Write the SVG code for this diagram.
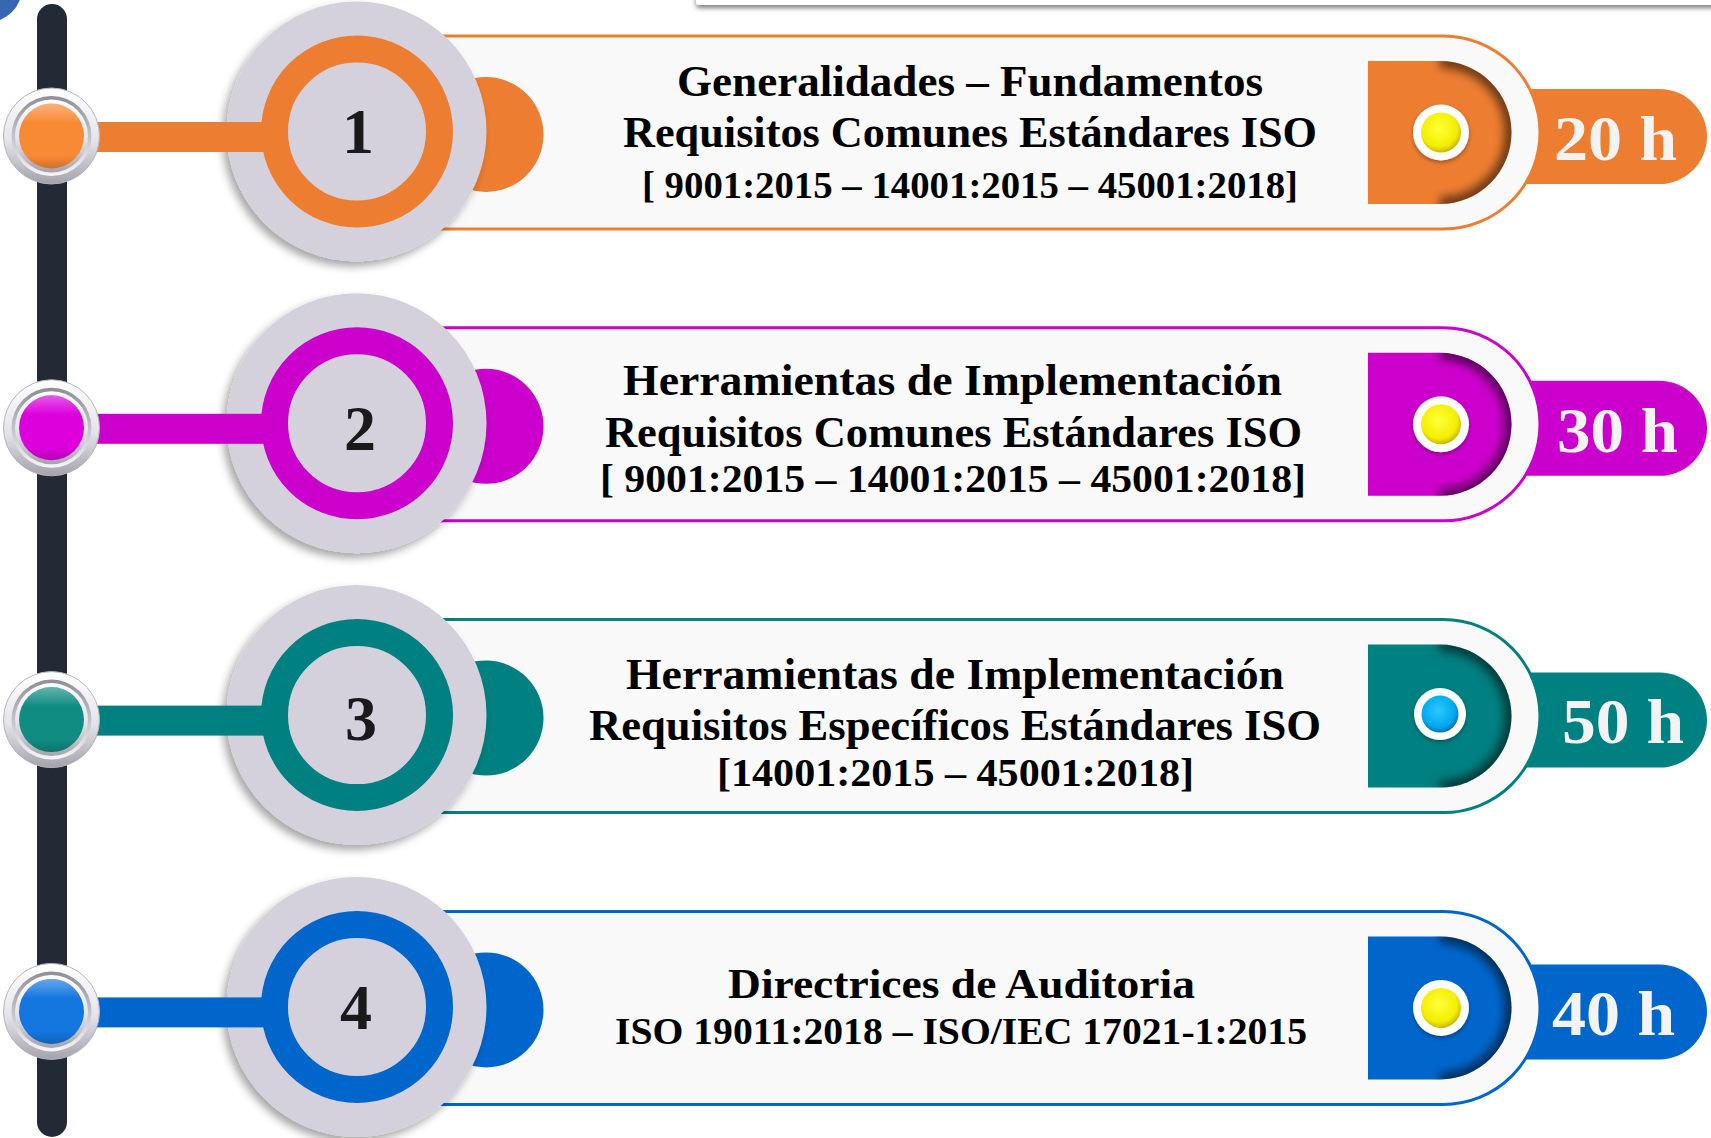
<svg xmlns="http://www.w3.org/2000/svg" width="1711" height="1138" viewBox="0 0 1711 1138">
<defs>
<style>
.t{font-family:"Liberation Serif","Times New Roman",serif;font-weight:bold;text-anchor:middle;fill:#000}
.l{font-size:45px}
.s{font-size:38px}
.num{font-size:64px;fill:#1A1A1A}
.hrs{font-size:64px;fill:#F3F3F3}
.cc{fill:currentColor}
.cs{fill:none;stroke:currentColor;stroke-width:3}
.ring{fill:none;stroke:currentColor;stroke-width:27}
.gray{fill:#D4D1DD}
.card{fill:#F9F9F9}
.dsh{fill:none;stroke:#000;stroke-opacity:0.55;stroke-width:14}
</style>
<filter id="dropL" x="-20%" y="-20%" width="140%" height="140%"><feDropShadow dx="-4" dy="5" stdDeviation="4" flood-color="#000" flood-opacity="0.35"/></filter>
<filter id="dropS" x="-40%" y="-40%" width="180%" height="180%"><feDropShadow dx="0" dy="2" stdDeviation="2" flood-color="#000" flood-opacity="0.35"/></filter>
<filter id="boxSh" x="-5%" y="-60%" width="110%" height="260%"><feDropShadow dx="0" dy="3" stdDeviation="2.5" flood-color="#000" flood-opacity="0.5"/></filter>
<filter id="blur" x="-30%" y="-30%" width="160%" height="160%"><feGaussianBlur stdDeviation="5"/></filter>
<clipPath id="dclip"><path d="M1368 -71.5H1440A71.5 71.5 0 0 1 1440 71.5H1368Z"/></clipPath>
<linearGradient id="silA" x1="0" y1="0" x2="0" y2="1"><stop offset="0" stop-color="#FFFFFF"/><stop offset="0.55" stop-color="#E4E3EA"/><stop offset="1" stop-color="#A4A3AC"/></linearGradient>
<linearGradient id="silB" x1="0" y1="0" x2="0" y2="1"><stop offset="0" stop-color="#8F8E98"/><stop offset="1" stop-color="#F6F6F8"/></linearGradient>
<linearGradient id="gloss" x1="0" y1="0" x2="0" y2="1"><stop offset="0" stop-color="#fff" stop-opacity="0.35"/><stop offset="0.3" stop-color="#fff" stop-opacity="0"/><stop offset="0.8" stop-color="#000" stop-opacity="0"/><stop offset="1" stop-color="#000" stop-opacity="0.18"/></linearGradient>
<radialGradient id="yel" cx="0.45" cy="0.4" r="0.6"><stop offset="0" stop-color="#FFFF3A"/><stop offset="0.75" stop-color="#F4EE00"/><stop offset="1" stop-color="#C9B800"/></radialGradient>
<radialGradient id="blu" cx="0.45" cy="0.4" r="0.6"><stop offset="0" stop-color="#2CC8FF"/><stop offset="0.75" stop-color="#00A9EE"/><stop offset="1" stop-color="#0A70B4"/></radialGradient>
</defs>
<rect width="1711" height="1138" fill="#FFFFFF"/>
<g id="decor">
<rect x="696" y="-30" width="1040" height="35" rx="3" fill="#FFFFFF" filter="url(#boxSh)"/>
<circle cx="-12" cy="-12" r="34" fill="#3568B0"/>
</g>
<g id="node1" transform="translate(0,132.5)" color="#ED7D31">
<path class="cc" d="M1480 -43.5H1659.5A47.5 47.5 0 0 1 1659.5 51.5H1480Z"/>
<path class="card" d="M430 -96.5H1443.5A96.5 96.5 0 0 1 1443.5 96.5H430Z"/>
<path class="cs" d="M440 -96.5H1443.5A96.5 96.5 0 0 1 1443.5 96.5H440"/>
<path class="cc" d="M1368 -71.5H1440A71.5 71.5 0 0 1 1440 71.5H1368Z"/>
<g clip-path="url(#dclip)"><path class="dsh" filter="url(#blur)" d="M1440 -71.5A71.5 71.5 0 0 1 1440 71.5"/></g>
<circle cx="1441" cy="0" r="28" fill="#FFFFFF" filter="url(#dropS)"/>
<circle cx="1441" cy="0" r="20" fill="url(#yel)"/>
<text class="t hrs" x="1615.5" y="27.5" textLength="123" lengthAdjust="spacingAndGlyphs">20 h</text>
<text class="t l" x="970" y="-36.5" textLength="586" lengthAdjust="spacingAndGlyphs">Generalidades – Fundamentos</text>
<text class="t l" x="970" y="14.5" textLength="694" lengthAdjust="spacingAndGlyphs">Requisitos Comunes Estándares ISO</text>
<text class="t s" x="970" y="65.5" textLength="656" lengthAdjust="spacingAndGlyphs">[ 9001:2015 – 14001:2015 – 45001:2018]</text>
<circle class="cc" cx="486" cy="2" r="57.5"/>
<circle class="gray" cx="356.5" cy="-1" r="130" filter="url(#dropL)"/>
<circle class="ring" cx="357" cy="-1" r="82.5"/>
<text class="t num" x="358" y="20.5">1</text>
</g>
<g id="node2" transform="translate(0,424.3)" color="#CC00CC">
<path class="cc" d="M1480 -43.5H1659.5A47.5 47.5 0 0 1 1659.5 51.5H1480Z"/>
<path class="card" d="M430 -96.5H1443.5A96.5 96.5 0 0 1 1443.5 96.5H430Z"/>
<path class="cs" d="M440 -96.5H1443.5A96.5 96.5 0 0 1 1443.5 96.5H440"/>
<path class="cc" d="M1368 -71.5H1440A71.5 71.5 0 0 1 1440 71.5H1368Z"/>
<g clip-path="url(#dclip)"><path class="dsh" filter="url(#blur)" d="M1440 -71.5A71.5 71.5 0 0 1 1440 71.5"/></g>
<circle cx="1441" cy="0" r="28" fill="#FFFFFF" filter="url(#dropS)"/>
<circle cx="1441" cy="0" r="20" fill="url(#yel)"/>
<text class="t hrs" x="1617.5" y="27.5" textLength="121" lengthAdjust="spacingAndGlyphs">30 h</text>
<text class="t l" x="952.5" y="-29.3" textLength="659" lengthAdjust="spacingAndGlyphs">Herramientas de Implementación</text>
<text class="t l" x="953.5" y="22.7" textLength="697" lengthAdjust="spacingAndGlyphs">Requisitos Comunes Estándares ISO</text>
<text class="t s" x="953" y="67.7" textLength="706" lengthAdjust="spacingAndGlyphs" style="font-size:39px">[ 9001:2015 – 14001:2015 – 45001:2018]</text>
<circle class="cc" cx="486" cy="2" r="57.5"/>
<circle class="gray" cx="356.5" cy="-1" r="130" filter="url(#dropL)"/>
<circle class="ring" cx="357" cy="-1" r="82.5"/>
<text class="t num" x="360" y="25.5">2</text>
</g>
<g id="node3" transform="translate(0,716.1)" color="#008080">
<path class="cc" d="M1480 -43.5H1659.5A47.5 47.5 0 0 1 1659.5 51.5H1480Z"/>
<path class="card" d="M430 -96.5H1443.5A96.5 96.5 0 0 1 1443.5 96.5H430Z"/>
<path class="cs" d="M440 -96.5H1443.5A96.5 96.5 0 0 1 1443.5 96.5H440"/>
<path class="cc" d="M1368 -71.5H1440A71.5 71.5 0 0 1 1440 71.5H1368Z"/>
<g clip-path="url(#dclip)"><path class="dsh" filter="url(#blur)" d="M1440 -71.5A71.5 71.5 0 0 1 1440 71.5"/></g>
<circle cx="1440" cy="-2" r="26" fill="#FFFFFF" filter="url(#dropS)"/>
<circle cx="1440" cy="-2" r="18.5" fill="url(#blu)"/>
<text class="t hrs" x="1623" y="27" textLength="122" lengthAdjust="spacingAndGlyphs">50 h</text>
<text class="t l" x="955" y="-27" textLength="658" lengthAdjust="spacingAndGlyphs">Herramientas de Implementación</text>
<text class="t l" x="955" y="24" textLength="732" lengthAdjust="spacingAndGlyphs">Requisitos Específicos Estándares ISO</text>
<text class="t s" x="955.5" y="70" textLength="477" lengthAdjust="spacingAndGlyphs" style="font-size:40px">[14001:2015 – 45001:2018]</text>
<circle class="cc" cx="486" cy="2" r="57.5"/>
<circle class="gray" cx="356.5" cy="-1" r="130" filter="url(#dropL)"/>
<circle class="ring" cx="357" cy="-1" r="82.5"/>
<text class="t num" x="361" y="23.4">3</text>
</g>
<g id="node4" transform="translate(0,1007.9)" color="#0066CC">
<path class="cc" d="M1480 -43.5H1659.5A47.5 47.5 0 0 1 1659.5 51.5H1480Z"/>
<path class="card" d="M430 -96.5H1443.5A96.5 96.5 0 0 1 1443.5 96.5H430Z"/>
<path class="cs" d="M440 -96.5H1443.5A96.5 96.5 0 0 1 1443.5 96.5H440"/>
<path class="cc" d="M1368 -71.5H1440A71.5 71.5 0 0 1 1440 71.5H1368Z"/>
<g clip-path="url(#dclip)"><path class="dsh" filter="url(#blur)" d="M1440 -71.5A71.5 71.5 0 0 1 1440 71.5"/></g>
<circle cx="1441" cy="0" r="28" fill="#FFFFFF" filter="url(#dropS)"/>
<circle cx="1441" cy="0" r="20" fill="url(#yel)"/>
<text class="t hrs" x="1613.5" y="27.5" textLength="123" lengthAdjust="spacingAndGlyphs">40 h</text>
<text class="t" x="961.5" y="-10" textLength="467" lengthAdjust="spacingAndGlyphs" style="font-size:43px">Directrices de Auditoria</text>
<text class="t" x="961" y="36" textLength="692" lengthAdjust="spacingAndGlyphs" style="font-size:38px">ISO 19011:2018 – ISO/IEC 17021-1:2015</text>
<circle class="cc" cx="486" cy="2" r="57.5"/>
<circle class="gray" cx="356.5" cy="-1" r="130" filter="url(#dropL)"/>
<circle class="ring" cx="357" cy="-1" r="82.5"/>
<text class="t num" x="356" y="21">4</text>
</g>
<g id="connectors">
<rect x="37" y="4" width="30" height="1133" rx="15" fill="#222A35"/>
<rect x="70" y="122" width="218" height="30" fill="#ED7D31"/>
<rect x="70" y="413.8" width="218" height="30" fill="#CC00CC"/>
<rect x="70" y="705.6" width="218" height="30" fill="#008080"/>
<rect x="70" y="997.4" width="218" height="30" fill="#0066CC"/>
</g>
<g id="knob1" transform="translate(51.5,136)" color="#F98A35">
<circle r="48" fill="url(#silA)" stroke="#B5B4BC" stroke-width="1"/>
<circle r="40" fill="url(#silB)"/>
<circle r="36.5" fill="url(#silA)"/>
<circle r="32.5" class="cc"/>
<circle r="32.5" fill="url(#gloss)"/>
</g>
<g id="knob2" transform="translate(51.5,427.8)" color="#DD00DD">
<circle r="48" fill="url(#silA)" stroke="#B5B4BC" stroke-width="1"/>
<circle r="40" fill="url(#silB)"/>
<circle r="36.5" fill="url(#silA)"/>
<circle r="32.5" class="cc"/>
<circle r="32.5" fill="url(#gloss)"/>
</g>
<g id="knob3" transform="translate(51.5,719.6)" color="#108C82">
<circle r="48" fill="url(#silA)" stroke="#B5B4BC" stroke-width="1"/>
<circle r="40" fill="url(#silB)"/>
<circle r="36.5" fill="url(#silA)"/>
<circle r="32.5" class="cc"/>
<circle r="32.5" fill="url(#gloss)"/>
</g>
<g id="knob4" transform="translate(51.5,1011.4)" color="#1477E0">
<circle r="48" fill="url(#silA)" stroke="#B5B4BC" stroke-width="1"/>
<circle r="40" fill="url(#silB)"/>
<circle r="36.5" fill="url(#silA)"/>
<circle r="32.5" class="cc"/>
<circle r="32.5" fill="url(#gloss)"/>
</g>
</svg>
